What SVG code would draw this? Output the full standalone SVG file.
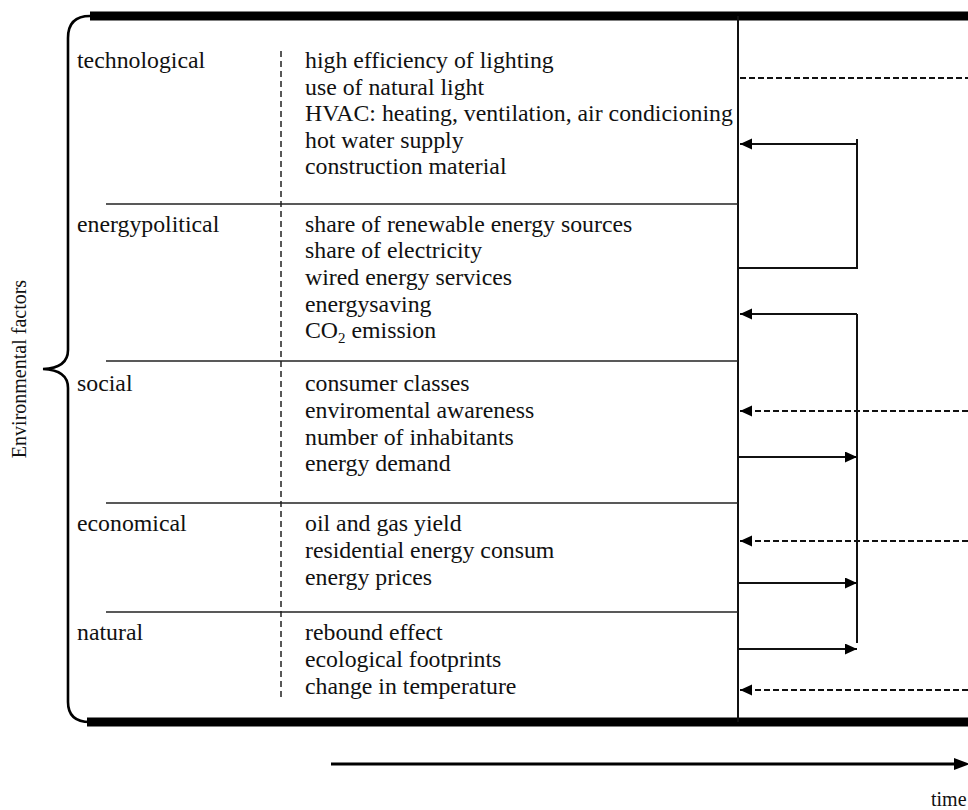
<svg xmlns="http://www.w3.org/2000/svg" width="968" height="810" viewBox="0 0 968 810">
<defs>
<style>
.t{font-size:23.8px}
.sm{font-size:20px}
.sep{stroke:#222;stroke-width:1.6;fill:none}
.thick{stroke:#000;stroke-width:9;fill:none}
.ln{stroke:#111;stroke-width:2;fill:none}
.dash{stroke:#111;stroke-width:2;fill:none;stroke-dasharray:6 3}
.vdash{stroke:#222;stroke-width:1.5;fill:none;stroke-dasharray:6 4}
</style>
<marker id="ah" markerUnits="userSpaceOnUse" markerWidth="13" markerHeight="12" refX="12" refY="5.5" orient="auto">
<path d="M0,0 L12,5.5 L0,11 z" fill="#000"/>
</marker>
</defs>
<rect width="968" height="810" fill="#fff"/>

<g font-family="'Liberation Serif', 'Times New Roman', 'DejaVu Serif', serif" fill="#111">
<g id="frame">
<line class="thick" x1="90" y1="16" x2="968" y2="16"/>
<line class="thick" x1="87" y1="722" x2="968" y2="722"/>
<line class="ln" x1="738" y1="16" x2="738" y2="722"/>
<line class="vdash" x1="281" y1="51" x2="281" y2="699"/>
<path d="M90,16 Q68,16 68,38 L68,350 Q68,368 43,369 Q68,370 68,388 L68,702 Q68,722 90,722" stroke="#000" stroke-width="2.6" fill="none"/>
<text class="sm" transform="translate(26,369) rotate(-90)" text-anchor="middle">Environmental factors</text>
</g>

<g id="technological">
<text class="t" x="77" y="67.5">technological</text>
<text class="t" x="305" y="67.5">high efficiency of lighting</text>
<text class="t" x="305" y="94.5">use of natural light</text>
<text class="t" x="305" y="121">HVAC: heating, ventilation, air condicioning</text>
<text class="t" x="305" y="147.5">hot water supply</text>
<text class="t" x="305" y="174">construction material</text>
<line class="sep" x1="106" y1="204" x2="738" y2="204"/>
</g>

<g id="energypolitical">
<text class="t" x="77" y="231.5">energypolitical</text>
<text class="t" x="305" y="231.5">share of renewable energy sources</text>
<text class="t" x="305" y="258">share of electricity</text>
<text class="t" x="305" y="285">wired energy services</text>
<text class="t" x="305" y="311.5">energysaving</text>
<text class="t" x="305" y="338">CO<tspan font-size="15" dy="5">2</tspan><tspan dy="-5"> emission</tspan></text>
<line class="sep" x1="106" y1="361" x2="738" y2="361"/>
</g>

<g id="social">
<text class="t" x="77" y="391">social</text>
<text class="t" x="305" y="391">consumer classes</text>
<text class="t" x="305" y="418">enviromental awareness</text>
<text class="t" x="305" y="444.5">number of inhabitants</text>
<text class="t" x="305" y="471">energy demand</text>
<line class="sep" x1="106" y1="503" x2="738" y2="503"/>
</g>

<g id="economical">
<text class="t" x="77" y="531">economical</text>
<text class="t" x="305" y="531">oil and gas yield</text>
<text class="t" x="305" y="558">residential energy consum</text>
<text class="t" x="305" y="584.5">energy prices</text>
<line class="sep" x1="106" y1="612" x2="738" y2="612"/>
</g>

<g id="natural">
<text class="t" x="77" y="640">natural</text>
<text class="t" x="305" y="640">rebound effect</text>
<text class="t" x="305" y="667">ecological footprints</text>
<text class="t" x="305" y="693.5">change in temperature</text>
</g>

<g id="connectors">
<line class="dash" x1="740" y1="78" x2="968" y2="78"/>
<polyline class="ln" points="738,268 857,268 857,139"/>
<line class="ln" x1="857" y1="144" x2="740" y2="144" marker-end="url(#ah)"/>
<line class="ln" x1="857" y1="314" x2="857" y2="643"/>
<line class="ln" x1="857" y1="314" x2="740" y2="314" marker-end="url(#ah)"/>
<line class="dash" x1="968" y1="411" x2="740" y2="411" marker-end="url(#ah)"/>
<line class="ln" x1="738" y1="457" x2="857" y2="457" marker-end="url(#ah)"/>
<line class="dash" x1="968" y1="541" x2="740" y2="541" marker-end="url(#ah)"/>
<line class="ln" x1="738" y1="583" x2="857" y2="583" marker-end="url(#ah)"/>
<line class="ln" x1="738" y1="649" x2="857" y2="649" marker-end="url(#ah)"/>
<line class="dash" x1="968" y1="690" x2="740" y2="690" marker-end="url(#ah)"/>
</g>

<g id="time-axis">
<line x1="331" y1="764" x2="958" y2="764" stroke="#000" stroke-width="3.2"/>
<path d="M954,758 L970,764 L954,770 z" fill="#000"/>
<text class="sm" x="931" y="806">time</text>
</g>
</g>
</svg>
